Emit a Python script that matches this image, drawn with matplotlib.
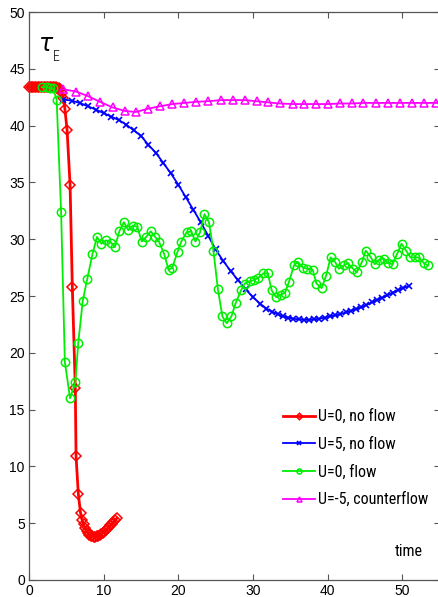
import matplotlib
matplotlib.use("Agg")
import matplotlib.pyplot as plt

# U=0, no flow
t_red = [0.0, 0.2, 0.4, 0.6, 0.8, 1.0, 1.2, 1.4, 1.6, 1.8, 2.0, 2.2, 2.4, 2.6, 2.8, 3.0,
         3.2, 3.4, 3.6, 3.8, 4.0, 4.2, 4.4, 4.6, 4.8, 5.1, 5.5, 5.8, 6.2, 6.3, 6.6, 6.9,
         7.1, 7.3, 7.5, 7.7, 7.9, 8.1, 8.3, 8.5, 8.7, 8.9, 9.1, 9.3, 9.5, 9.7, 9.9, 10.1,
         10.3, 10.5, 10.7, 10.9, 11.1, 11.3, 11.5, 11.8]
y_red = [43.4, 43.4, 43.4, 43.4, 43.4, 43.4, 43.4, 43.4, 43.4, 43.4, 43.4, 43.4, 43.4, 43.4,
         43.4, 43.4, 43.4, 43.4, 43.4, 43.35, 43.3, 43.2, 42.9, 42.4, 41.5, 39.6, 34.8, 25.8,
         16.9, 10.9, 7.6, 5.9, 5.3, 4.9, 4.6, 4.35, 4.15, 4.0, 3.9, 3.85, 3.8, 3.8, 3.85, 3.9,
         3.95, 4.05, 4.15, 4.25, 4.4, 4.5, 4.65, 4.8, 4.95, 5.1, 5.25, 5.45]

# U=5, no flow
t_blue = [4.6, 5.7, 6.8, 7.9, 9.0, 10, 11, 12, 13, 14, 15, 16, 17, 18, 19, 20, 21, 22, 23,
          24, 25, 26, 27, 28, 29, 30, 31, 31.8, 32.6, 33.3, 34.0, 34.7, 35.4, 36.1, 36.8,
          37.5, 38.2, 38.9, 39.6, 40.3, 41.0, 41.7, 42.4, 43.1, 43.8, 44.5, 45.2, 45.9,
          46.6, 47.3, 48.0, 48.7, 49.4, 50.1, 50.9]
y_blue = [42.3, 42.2, 42.0, 41.7, 41.4, 41.1, 40.8, 40.5, 40.1, 39.6, 39.1, 38.3, 37.6, 36.7,
          35.8, 34.8, 33.7, 32.6, 31.5, 30.3, 29.1, 28.1, 27.2, 26.4, 25.6, 24.9, 24.3, 23.9,
          23.6, 23.4, 23.2, 23.1, 23.0, 22.95, 22.9, 22.9, 22.95, 23.0, 23.1, 23.2, 23.3,
          23.4, 23.55, 23.7, 23.85, 24.0, 24.2, 24.45, 24.65, 24.85, 25.05, 25.3, 25.5,
          25.7, 25.9]

# U=0, flow
t_green = [1.7, 2.4, 2.8, 3.2, 3.7, 4.3, 4.8, 5.5, 6.2, 6.6, 7.2, 7.8, 8.5, 9.1, 9.7,
           10.3, 11.0, 11.5, 12.1, 12.7, 13.3, 13.9, 14.5, 15.1, 15.7, 16.3, 16.9, 17.4,
           18.1, 18.7, 19.2, 19.9, 20.4, 21.1, 21.7, 22.3, 22.9, 23.5, 24.1, 24.7, 25.3,
           25.9, 26.5, 27.1, 27.7, 28.4, 28.9, 29.6, 30.1, 30.7, 31.4, 32.0, 32.5, 33.1,
           33.7, 34.3, 34.8, 35.5, 36.0, 36.7, 37.3, 38.0, 38.5, 39.2, 39.8, 40.4, 41.0,
           41.5, 42.2, 42.7, 43.4, 43.9, 44.6, 45.1, 45.8, 46.3, 46.9, 47.5, 48.1, 48.7,
           49.3, 49.9, 50.5, 51.1, 51.7, 52.2, 52.9, 53.4]
y_green = [43.4, 43.4, 43.3, 43.3, 42.3, 32.4, 19.2, 16.0, 17.4, 20.9, 24.6, 26.5, 28.7,
           30.2, 29.6, 29.9, 29.7, 29.3, 30.7, 31.5, 30.8, 31.2, 31.1, 29.8, 30.2, 30.7,
           30.2, 29.8, 28.7, 27.3, 27.5, 28.9, 29.8, 30.6, 30.7, 29.8, 30.6, 32.2, 31.5,
           29.0, 25.6, 23.2, 22.6, 23.2, 24.4, 25.5, 26.1, 26.3, 26.4, 26.6, 27.0, 27.0,
           25.5, 24.9, 25.1, 25.3, 26.2, 27.7, 28.0, 27.5, 27.4, 27.3, 26.1, 25.7, 26.8,
           28.4, 28.0, 27.4, 27.7, 27.9, 27.4, 27.1, 28.0, 29.0, 28.4, 27.8, 28.2, 28.3,
           27.9, 27.8, 28.7, 29.6, 29.0, 28.4, 28.4, 28.4, 27.9, 27.7]

# U=-5, counterflow
t_mag = [4.6, 6.3, 7.9, 9.5, 11.2, 12.8, 14.3, 16.0, 17.5, 19.2, 20.8, 22.4, 24.0, 25.7,
         27.3, 28.9, 30.5, 32.0, 33.6, 35.3, 36.8, 38.4, 40.0, 41.6, 43.2, 44.8, 46.5,
         48.1, 49.7, 51.3, 52.9, 54.5, 56.1]
y_mag = [43.2, 43.0, 42.6, 42.1, 41.6, 41.3, 41.2, 41.5, 41.7, 41.9, 42.0, 42.1, 42.15,
         42.25, 42.25, 42.25, 42.15, 42.05, 41.95, 41.9, 41.9, 41.9, 41.9, 41.95, 41.95,
         42.0, 42.0, 42.0, 42.0, 42.0, 42.0, 42.0, 42.0]

labels = ["U=0, no flow", "U=5, no flow", "U=0, flow", "U=-5, counterflow"]

plt.rcParams["font.family"] = ["Liberation Sans", "DejaVu Sans"]
narrow = ["Roboto Condensed", "DejaVu Sans"]

fig = plt.figure(figsize=(4.39, 5.97), dpi=100)
ax = fig.add_axes([0.0661, 0.0285, 0.9353, 0.9513])

ax.plot(t_red, y_red, color="#ff0000", lw=2.0, marker="D", ms=5.5, mfc="none",
        mew=1.1, label=labels[0], clip_on=False)
ax.plot(t_blue, y_blue, color="#0000ff", lw=1.3, marker="x", ms=5, mew=1.2,
        label=labels[1])
ax.plot(t_green, y_green, color="#00ee00", lw=1.3, marker="o", ms=6, mfc="none",
        mew=1.1, label=labels[2])
ax.plot(t_mag, y_mag, color="#ff00ff", lw=1.3, marker="^", ms=6, mfc="none",
        mew=1.1, label=labels[3])

ax.set_xlim(0, 55)
ax.set_ylim(0, 50)
ax.set_xticks([0, 10, 20, 30, 40, 50])
ax.set_yticks(range(0, 51, 5))
ax.tick_params(direction="in", top=True, right=True, length=4, width=0.8,
               color="#555555", labelsize=10, pad=3)
for s in ax.spines.values():
    s.set_color("#555555")
    s.set_linewidth(0.9)

ax.text(0.022, 0.932, r"$\tau$", transform=ax.transAxes, fontsize=17,
        ha="left", va="baseline")
ax.text(0.058, 0.914, "E", transform=ax.transAxes, fontsize=10, family=narrow,
        fontweight="light", ha="left", va="baseline")
ax.text(423 / 439, 1 - 556 / 597, "time", transform=fig.transFigure, fontsize=11.5,
        family=narrow, ha="right", va="baseline")

leg = ax.legend(loc="upper left", bbox_to_anchor=(283 / 439, 1 - 409 / 597),
                bbox_transform=fig.transFigure, frameon=False, borderpad=0,
                borderaxespad=0, prop={"family": narrow, "size": 11.5},
                handlelength=2.0, handletextpad=0.2, labelspacing=0.78,
                markerscale=0.6)

fig.savefig("out.png", dpi=100)
